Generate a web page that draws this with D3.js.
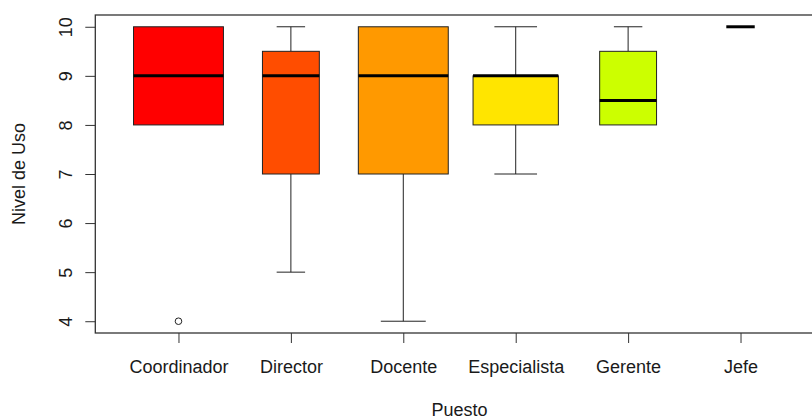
<!DOCTYPE html>
<html>
<head>
<meta charset="utf-8">
<script src="https://cdn.jsdelivr.net/npm/d3@7"></script>
<style>
  html, body { margin: 0; padding: 0; background: #ffffff; }
  svg { display: block; }
  text { font-family: "Liberation Sans", Arial, sans-serif; fill: #1a1a1a; }
</style>
</head>
<body>
<svg id="chart" width="812" height="420"></svg>
<script>
// Nivel de Uso por Puesto: box summaries per group
const categories   = ["Coordinador", "Director", "Docente", "Especialista", "Gerente", "Jefe"];
const whiskerLow   = [8, 5, 4, 7, 8, 10];
const quartile1    = [8, 7, 7, 8, 8, 10];
const medians      = [9, 9, 9, 9, 8.5, 10];
const quartile3    = [10, 9.5, 10, 9, 9.5, 10];
const whiskerHigh  = [10, 10, 10, 10, 10, 10];
const groupCounts  = [10, 4, 10, 9, 4, 1];
const outliers     = [[4], [], [], [], [], []];
const boxColors    = ["#FF0000", "#FF4D00", "#FF9900", "#FFE500", "#CCFF00", "#80FF00"];
const yTickValues  = [4, 5, 6, 7, 8, 9, 10];

const svg = d3.select("#chart");
const fontSize = "18px";

const plot = { left: 95.3, right: 823.7, top: 15, bottom: 333 };

// Axis ranges padded by 4% on each side
const nGroups = categories.length;
const xPad = 0.04 * nGroups;
const x = d3.scaleLinear()
  .domain([0.5 - xPad, nGroups + 0.5 + xPad])
  .range([plot.left, plot.right]);
const yPad = 0.04 * (10 - 4);
const y = d3.scaleLinear()
  .domain([4 - yPad, 10 + yPad])
  .range([plot.bottom, plot.top]);

// box width grows with the square root of the group size
const maxSqrt = Math.sqrt(d3.max(groupCounts));
const unit = x(2) - x(1);
const boxWidth = i => 0.8 * unit * Math.sqrt(groupCounts[i]) / maxSqrt;

const groups = categories.map((c, i) => ({
  name: c, i,
  lo: whiskerLow[i], q1: quartile1[i], med: medians[i], q3: quartile3[i], hi: whiskerHigh[i],
  out: outliers[i], color: boxColors[i], w: boxWidth(i), cx: x(i + 1)
}));

const g = svg.append("g");

// whiskers
const wg = g.selectAll("g.box").data(groups).join("g").attr("class", "box");
wg.filter(d => d.hi > d.q3).append("line")
  .attr("x1", d => d.cx).attr("x2", d => d.cx)
  .attr("y1", d => y(d.q3)).attr("y2", d => y(d.hi))
  .attr("stroke", "#222").attr("stroke-width", 1);
wg.filter(d => d.lo < d.q1).append("line")
  .attr("x1", d => d.cx).attr("x2", d => d.cx)
  .attr("y1", d => y(d.q1)).attr("y2", d => y(d.lo))
  .attr("stroke", "#222").attr("stroke-width", 1);
// staples
wg.filter(d => d.hi > d.q3).append("line")
  .attr("x1", d => d.cx - d.w / 4).attr("x2", d => d.cx + d.w / 4)
  .attr("y1", d => y(d.hi)).attr("y2", d => y(d.hi))
  .attr("stroke", "#222").attr("stroke-width", 1);
wg.filter(d => d.lo < d.q1).append("line")
  .attr("x1", d => d.cx - d.w / 4).attr("x2", d => d.cx + d.w / 4)
  .attr("y1", d => y(d.lo)).attr("y2", d => y(d.lo))
  .attr("stroke", "#222").attr("stroke-width", 1);

// boxes
wg.filter(d => d.q3 > d.q1).append("rect")
  .attr("x", d => d.cx - d.w / 2)
  .attr("y", d => y(d.q3))
  .attr("width", d => d.w)
  .attr("height", d => y(d.q1) - y(d.q3))
  .attr("fill", d => d.color)
  .attr("stroke", "#222").attr("stroke-width", 1);

// medians
wg.append("line")
  .attr("x1", d => d.cx - d.w / 2).attr("x2", d => d.cx + d.w / 2)
  .attr("y1", d => y(d.med)).attr("y2", d => y(d.med))
  .attr("stroke", "#000").attr("stroke-width", 3);

// outliers
wg.selectAll("circle").data(d => d.out.map(v => ({ v, cx: d.cx }))).join("circle")
  .attr("cx", d => d.cx).attr("cy", d => y(d.v)).attr("r", 3.3)
  .attr("fill", "none").attr("stroke", "#222").attr("stroke-width", 1);

// plot frame
svg.append("rect")
  .attr("x", plot.left).attr("y", plot.top)
  .attr("width", plot.right - plot.left).attr("height", plot.bottom - plot.top)
  .attr("fill", "none").attr("stroke", "#333").attr("stroke-width", 1.3);

// y axis
const yAxis = d3.axisLeft(y).tickValues(yTickValues).tickSize(10).tickPadding(0).tickFormat(d3.format("d"));
const ya = svg.append("g").attr("transform", `translate(${plot.left},0)`).call(yAxis);
ya.select(".domain").remove();
ya.selectAll(".tick line").attr("stroke", "#333");
ya.selectAll(".tick text")
  .attr("x", 0).attr("dy", 0)
  .attr("transform", "translate(-29,0) rotate(-90)")
  .attr("text-anchor", "middle")
  .attr("dominant-baseline", "central")
  .style("font-size", fontSize).style("font-family", "Liberation Sans, Arial, sans-serif")
  .attr("fill", "#1a1a1a");

// x axis
const xAxis = d3.axisBottom(x).tickValues(d3.range(1, nGroups + 1))
  .tickSize(10).tickPadding(0).tickFormat(d => categories[d - 1]);
const xa = svg.append("g").attr("transform", `translate(0,${plot.bottom})`).call(xAxis);
xa.select(".domain").remove();
xa.selectAll(".tick line").attr("stroke", "#333");
xa.selectAll(".tick text")
  .attr("y", 34).attr("dy", 0)
  .attr("dominant-baseline", "central")
  .style("font-size", fontSize).style("font-family", "Liberation Sans, Arial, sans-serif")
  .attr("fill", "#1a1a1a");

// axis titles
svg.append("text")
  .attr("x", (plot.left + plot.right) / 2).attr("y", 410)
  .attr("text-anchor", "middle").attr("dominant-baseline", "central")
  .style("font-size", fontSize)
  .text("Puesto");
svg.append("text")
  .attr("transform", `translate(19,${y(7)}) rotate(-90)`)
  .attr("text-anchor", "middle").attr("dominant-baseline", "central")
  .style("font-size", fontSize)
  .text("Nivel de Uso");
</script>
</body>
</html>
